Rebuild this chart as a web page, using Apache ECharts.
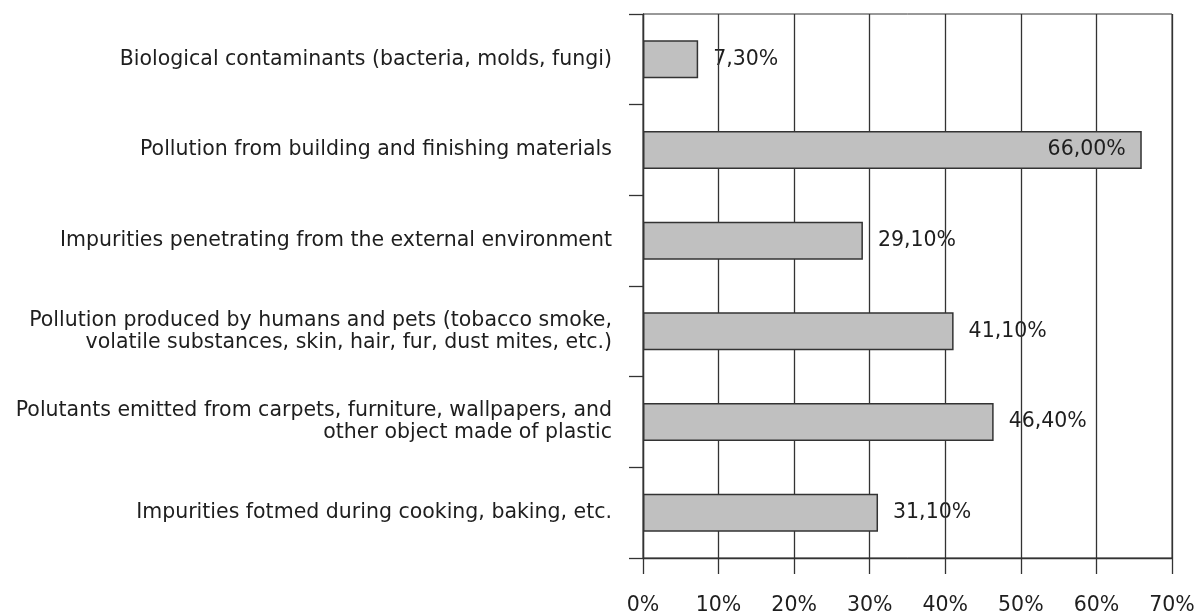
<!DOCTYPE html>
<html>
<head>
<meta charset="utf-8">
<script src="https://cdn.jsdelivr.net/npm/echarts@6/dist/echarts.min.js"></script>
<style>
html,body{margin:0;padding:0;background:#fff;}
#c{width:1198px;height:616px;}
</style>
</head>
<body>
<div id="c"></div>
<script>
const categories = [
  "Biological contaminants (bacteria, molds, fungi)",
  "Pollution from building and finishing materials",
  "Impurities penetrating from the external environment",
  "Pollution produced by humans and pets (tobacco smoke,\nvolatile substances, skin, hair, fur, dust mites, etc.)",
  "Polutants emitted from carpets, furniture, wallpapers, and\nother object made of plastic",
  "Impurities fotmed during cooking, baking, etc."
];
const values = [7.3, 66.0, 29.1, 41.1, 46.4, 31.1];
const xTicks = [0, 10, 20, 30, 40, 50, 60, 70];

const FONT = "'DejaVu Sans', sans-serif";
const FS = 20.5;
const TXT = '#1e1e1e';
const LINE = '#333';

const fmt = v => v.toFixed(2).replace('.', ',') + '%';
const inside = v => v > 60;

// labels drawn outside the bar sit under the gridlines (like the reference);
// labels inside the long bar are drawn with the bar itself.
const outsideLabelData = values.map(v => ({ value: v, label: { show: !inside(v) } }));
const barData = values.map(v => ({ value: v, label: { show: inside(v) } }));

const labelStyle = { fontSize: FS, fontFamily: FONT, color: TXT, formatter: p => fmt(p.value) };

const chart = echarts.init(document.getElementById('c'), null, { renderer: 'canvas' });
chart.setOption({
  animation: false,
  backgroundColor: '#fff',
  grid: { left: 643, right: 26, top: 14, bottom: 58, show: true, borderColor: LINE, borderWidth: 1, backgroundColor: 'transparent' },
  xAxis: {
    type: 'value',
    min: xTicks[0], max: xTicks[xTicks.length - 1], interval: 10,
    z: 1,
    axisLine: { show: true, lineStyle: { color: LINE, width: 1.3 } },
    axisTick: { show: true, length: 16, lineStyle: { color: LINE, width: 1.3 } },
    splitLine: { show: true, lineStyle: { color: LINE, width: 1.3 } },
    axisLabel: { formatter: '{value}%', margin: 37, fontSize: FS, fontFamily: FONT, color: TXT }
  },
  yAxis: {
    type: 'category',
    inverse: true,
    data: categories,
    z: 1,
    axisLine: { show: true, lineStyle: { color: LINE, width: 1.3 } },
    axisTick: { show: true, length: 14, lineStyle: { color: LINE, width: 1.3 } },
    axisLabel: { margin: 31, fontSize: FS, lineHeight: 22, fontFamily: FONT, color: TXT, align: 'right' }
  },
  series: [
    {
      name: 'labels',
      type: 'bar',
      z: 0,
      barWidth: 38,
      barGap: '-100%',
      data: outsideLabelData,
      itemStyle: { color: 'rgba(0,0,0,0)' },
      label: Object.assign({ position: 'right', distance: 15 }, labelStyle),
      silent: true
    },
    {
      name: 'share',
      type: 'bar',
      z: 2,
      barWidth: 38,
      barGap: '-100%',
      data: barData,
      itemStyle: { color: '#c0c0c0', borderColor: LINE, borderWidth: 1.5 },
      label: Object.assign({ position: 'insideRight', distance: 16 }, labelStyle)
    }
  ]
});
</script>
</body>
</html>
